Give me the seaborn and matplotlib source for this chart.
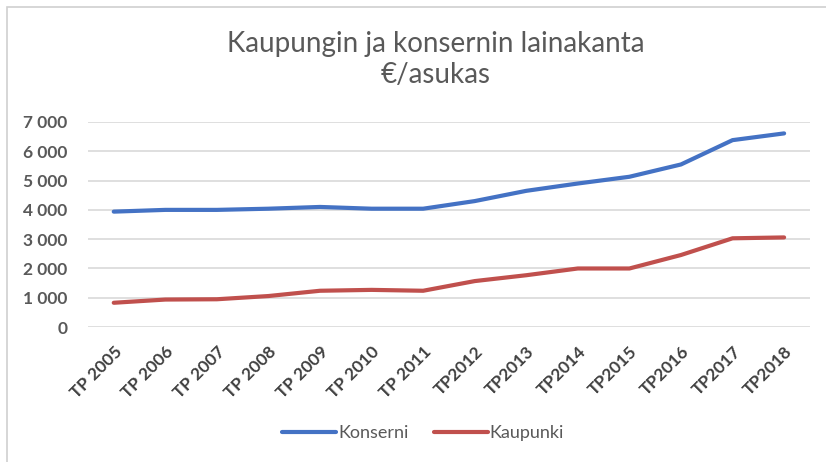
import pandas as pd
import matplotlib.pyplot as plt
import seaborn as sns
from matplotlib.ticker import FuncFormatter
from matplotlib.patches import Rectangle

# data
years = ["TP 2005", "TP 2006", "TP 2007", "TP 2008", "TP 2009", "TP 2010", "TP 2011",
         "TP2012", "TP2013", "TP2014", "TP2015", "TP2016", "TP2017", "TP2018"]
konserni = [3940, 4000, 4000, 4040, 4100, 4040, 4040, 4300, 4650, 4900, 5130, 5550, 6380, 6610]
kaupunki = [830, 940, 950, 1060, 1240, 1270, 1240, 1570, 1770, 2000, 2000, 2460, 3030, 3060]

df = pd.DataFrame({
    "Vuosi": years * 2,
    "Arvo": konserni + kaupunki,
    "Sarja": ["Konserni"] * len(years) + ["Kaupunki"] * len(years),
})

sns.set_style("white")
plt.rcParams["font.family"] = ["Lato", "DejaVu Sans"]

fig = plt.figure(figsize=(8.26, 4.62), dpi=100)
ax = fig.add_axes([0.1065, 0.292, 0.874, 0.444])

sns.lineplot(data=df, x="Vuosi", y="Arvo", hue="Sarja", sort=False,
             palette={"Konserni": "#4472C4", "Kaupunki": "#C0504D"},
             linewidth=3, ax=ax, legend=True)

ax.set_xlim(-0.5, len(years) - 0.5)
ax.set_ylim(0, 7000)
ax.set_yticks(range(0, 7001, 1000))
ax.yaxis.set_major_formatter(FuncFormatter(lambda v, p: f"{int(v):,}".replace(",", " ")))
ax.yaxis.grid(True, color="#D9D9D9", linewidth=1.2)
ax.xaxis.grid(False)
ax.set_axisbelow(True)
for s in ax.spines.values():
    s.set_visible(False)
ax.set_xlabel("")
ax.set_ylabel("")
ax.tick_params(axis="y", length=0, pad=15, labelsize=12.5, labelcolor="#595959")
ax.tick_params(axis="x", length=0, pad=12, labelsize=12.5, labelcolor="#404040")
for lab in ax.get_yticklabels():
    lab.set_fontweight("bold")
for lab in ax.get_xticklabels():
    lab.set_rotation(45)
    lab.set_ha("right")
    lab.set_rotation_mode("anchor")
    lab.set_fontweight("bold")

leg = ax.legend(loc="center", bbox_to_anchor=(0.512, 0.063), bbox_transform=fig.transFigure,
                ncol=2, frameon=False, handlelength=3.0, handletextpad=0.1,
                columnspacing=1.4,
                prop={"family": ["Liberation Sans Narrow", "Lato"], "size": 13})
for t in leg.get_texts():
    t.set_color("#595959")

fig.text(0.527, 0.905, "Kaupungin ja konsernin lainakanta", ha="center", va="center",
         fontsize=20, color="#595959")
fig.text(0.527, 0.838, "€/asukas", ha="center", va="center", fontsize=20, color="#595959")

fig.patches.append(Rectangle((0.008, -0.01), 1.0, 0.995, transform=fig.transFigure,
                             fill=False, edgecolor="#D0D0D0", linewidth=1.2))

fig.savefig("out.png", dpi=100)
